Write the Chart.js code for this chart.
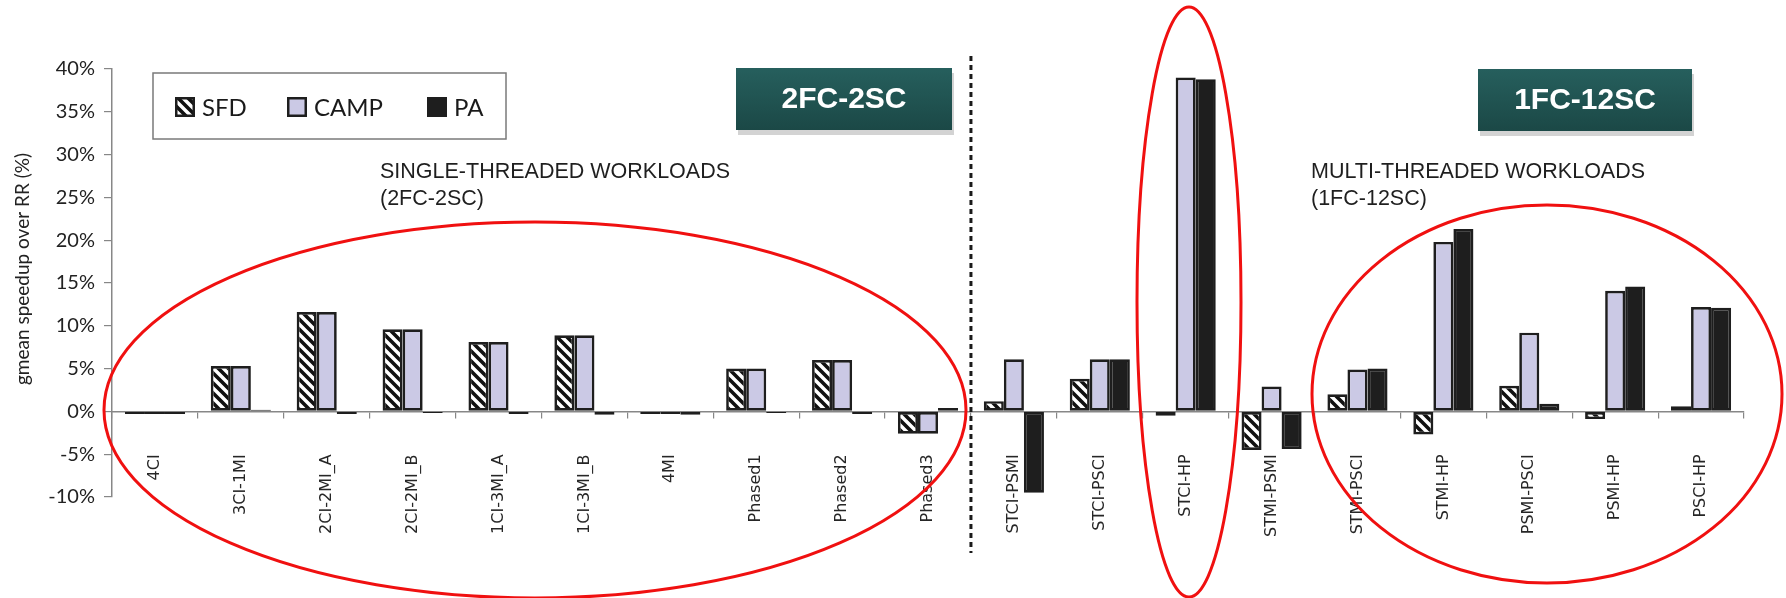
<!DOCTYPE html>
<html>
<head>
<meta charset="utf-8">
<title>gmean speedup over RR</title>
<script src="https://cdn.jsdelivr.net/npm/chart.js@4.4.1/dist/chart.umd.min.js"></script>
<style>
  html, body { margin: 0; padding: 0; background: #ffffff; }
  #wrap { width: 1786px; height: 598px; position: relative; }
</style>
</head>
<body>
<div id="wrap"><canvas id="chart" width="1786" height="598"></canvas></div>
<script>
// ---- data -------------------------------------------------------------
const categories = [
  '4CI', '3CI-1MI', '2CI-2MI_A', '2CI-2MI_B', '1CI-3MI_A', '1CI-3MI_B', '4MI',
  'Phased1', 'Phased2', 'Phased3',
  'STCI-PSMI', 'STCI-PSCI', 'STCI-HP', 'STMI-PSMI', 'STMI-PSCI', 'STMI-HP',
  'PSMI-PSCI', 'PSMI-HP', 'PSCI-HP'
];
const seriesNames = ['SFD', 'CAMP', 'PA'];
const sfd  = [-0.3, 5.3, 11.6, 9.6, 8.1, 8.9, -0.3, 5.0, 6.0, -2.6, 1.2, 3.8, -0.5, -4.5, 2.0, -2.7, 3.0, -0.9, 0.6];
const camp = [-0.3, 5.3, 11.6, 9.6, 8.1, 8.9, -0.3, 5.0, 6.0, -2.6, 6.1, 6.1, 39.0, 2.9, 4.9, 19.8, 9.2, 14.1, 12.2];
const pa   = [-0.3, 0.2, -0.3, -0.2, -0.3, -0.4, -0.4, -0.2, -0.3, 0.4, -9.5, 6.1, 38.8, -4.4, 5.0, 21.3, 0.9, 14.6, 12.1];
const yTicks = [-10, -5, 0, 5, 10, 15, 20, 25, 30, 35, 40];
const yTitle = 'gmean speedup over RR (%)';
const splitIndex = 10; // first multi-threaded workload
const groupBadges = ['2FC-2SC', '1FC-12SC'];
const groupNotes = [
  ['SINGLE-THREADED WORKLOADS', '(2FC-2SC)'],
  ['MULTI-THREADED WORKLOADS', '(1FC-12SC)']
];

// ---- styles -----------------------------------------------------------
const INK = '#1e1e1e';
const AXIS = '#878787';
const LAVENDER = '#cbc9e5';
const RED = '#f01010';
const LABEL_FONT = '"DejaVu Sans", Verdana, sans-serif';
const UI_FONT = 'Lato, "Noto Sans", sans-serif';

function hatchPattern() {
  const s = 10;
  const c = document.createElement('canvas');
  c.width = s; c.height = s;
  const g = c.getContext('2d');
  g.fillStyle = '#ffffff';
  g.fillRect(0, 0, s, s);
  g.strokeStyle = '#111111';
  g.lineWidth = 3.6;
  g.beginPath();
  g.moveTo(-s, -s); g.lineTo(2 * s, 2 * s);
  g.moveTo(-s, 0); g.lineTo(s, 2 * s);
  g.moveTo(0, -s); g.lineTo(2 * s, s);
  g.stroke();
  return g.createPattern(c, 'repeat');
}
const hatch = hatchPattern();

// category labels hang below the zero line, read bottom-to-top
const categoryLabels = {
  id: 'categoryLabels',
  afterDatasetsDraw(chart) {
    const ctx = chart.ctx;
    const xs = chart.scales.x;
    const ys = chart.scales.y;
    const top = ys.getPixelForValue(0) + 43;
    ctx.save();
    ctx.fillStyle = '#262626';
    ctx.font = '16px ' + LABEL_FONT;
    ctx.textAlign = 'right';
    ctx.textBaseline = 'middle';
    chart.data.labels.forEach((label, i) => {
      ctx.save();
      ctx.translate(xs.getPixelForValue(i), top);
      ctx.rotate(-Math.PI / 2);
      ctx.fillText(label, 0, 0);
      ctx.restore();
    });
    // value-axis title
    const area = chart.chartArea;
    ctx.font = '19px ' + UI_FONT;
    ctx.fillStyle = '#222222';
    ctx.textAlign = 'center';
    ctx.translate(23, (area.top + area.bottom) / 2 - 14);
    ctx.rotate(-Math.PI / 2);
    ctx.fillText(yTitle, 0, 0);
    ctx.restore();
  }
};

// decorations drawn on top of the plot
const decor = {
  id: 'decor',
  beforeDraw(chart) {
    const ctx = chart.ctx;
    ctx.save();
    ctx.fillStyle = '#ffffff';
    ctx.fillRect(0, 0, chart.width, chart.height);
    ctx.restore();
  },
  afterDraw(chart) {
    const ctx = chart.ctx;
    const xs = chart.scales.x;
    ctx.save();

    // dashed divider between the two workload groups
    const xSplit = (xs.getPixelForValue(splitIndex - 1) + xs.getPixelForValue(splitIndex)) / 2;
    ctx.strokeStyle = '#1a1a1a';
    ctx.lineWidth = 3;
    ctx.setLineDash([5, 4]);
    ctx.beginPath();
    ctx.moveTo(xSplit, 56);
    ctx.lineTo(xSplit, 553);
    ctx.stroke();
    ctx.setLineDash([]);

    // legend box
    const lg = { x: 153, y: 73, w: 353, h: 66 };
    ctx.fillStyle = '#ffffff';
    ctx.fillRect(lg.x, lg.y, lg.w, lg.h);
    ctx.strokeStyle = '#7a7a7a';
    ctx.lineWidth = 1.5;
    ctx.strokeRect(lg.x, lg.y, lg.w, lg.h);
    const swatchX = [175, 287, 427];
    const cy = 107;
    ctx.font = '24px ' + UI_FONT;
    ctx.textBaseline = 'middle';
    ctx.textAlign = 'left';
    chart.data.datasets.forEach((ds, i) => {
      const sx = swatchX[i];
      ctx.fillStyle = ds.backgroundColor;
      ctx.fillRect(sx, cy - 10, 20, 20);
      ctx.strokeStyle = INK;
      ctx.lineWidth = 2.5;
      ctx.strokeRect(sx + 1.25, cy - 8.75, 17.5, 17.5);
      ctx.fillStyle = '#1a1a1a';
      ctx.fillText(ds.label, sx + 27, cy + 1);
    });

    // group badges
    const badges = [
      { x: 736, y: 68, w: 216, h: 62 },
      { x: 1478, y: 69, w: 214, h: 62 }
    ];
    badges.forEach((b, i) => {
      ctx.fillStyle = '#d3d3d3';
      ctx.fillRect(b.x + 2, b.y + 5, b.w, b.h);
      const grad = ctx.createLinearGradient(0, b.y, 0, b.y + b.h);
      grad.addColorStop(0, '#265f5d');
      grad.addColorStop(1, '#1b4846');
      ctx.fillStyle = grad;
      ctx.fillRect(b.x, b.y, b.w, b.h);
      ctx.fillStyle = '#ffffff';
      ctx.font = 'bold 30px "Liberation Sans", Arial, sans-serif';
      ctx.textAlign = 'center';
      ctx.textBaseline = 'middle';
      ctx.fillText(groupBadges[i], b.x + b.w / 2, b.y + b.h / 2 + 1);
    });

    // group notes
    const notePos = [{ x: 380, y: 172 }, { x: 1311, y: 172 }];
    ctx.fillStyle = '#1f1f1f';
    ctx.font = '21.5px "Liberation Sans", Arial, sans-serif';
    ctx.textAlign = 'left';
    ctx.textBaseline = 'middle';
    groupNotes.forEach((lines, i) => {
      lines.forEach((t, j) => ctx.fillText(t, notePos[i].x, notePos[i].y + j * 27.5));
    });

    // red highlight ellipses
    const rings = [
      { cx: 535, cy: 410, rx: 431, ry: 188 },
      { cx: 1189, cy: 302, rx: 52, ry: 295 },
      { cx: 1547, cy: 394, rx: 235, ry: 189 }
    ];
    ctx.strokeStyle = RED;
    ctx.lineWidth = 3;
    rings.forEach(r => {
      ctx.beginPath();
      ctx.ellipse(r.cx, r.cy, r.rx, r.ry, 0, 0, Math.PI * 2);
      ctx.stroke();
    });

    ctx.restore();
  }
};

const barStyle = {
  borderColor: INK,
  borderWidth: 2.7,
  borderSkipped: false,
  categoryPercentage: 0.7,
  barPercentage: 1.0
};

new Chart(document.getElementById('chart'), {
  type: 'bar',
  data: {
    labels: categories,
    datasets: [
      Object.assign({ label: seriesNames[0], data: sfd, backgroundColor: hatch }, barStyle),
      Object.assign({ label: seriesNames[1], data: camp, backgroundColor: LAVENDER }, barStyle),
      Object.assign({ label: seriesNames[2], data: pa, backgroundColor: INK }, barStyle)
    ]
  },
  options: {
    responsive: false,
    animation: false,
    events: [],
    layout: { padding: { top: 69, right: 42, bottom: 101, left: 0 } },
    plugins: {
      legend: { display: false },
      tooltip: { enabled: false },
      title: { display: false }
    },
    scales: {
      x: {
        position: { y: 0 },
        offset: true,
        grid: {
          offset: true,
          drawOnChartArea: false,
          drawTicks: true,
          tickLength: 6,
          color: AXIS,
          lineWidth: 1.2
        },
        border: { display: true, color: AXIS, width: 1.5 },
        ticks: { display: false, autoSkip: false }
      },
      y: {
        min: -10,
        max: 40,
        afterFit(scale) { scale.width = 112; },
        afterBuildTicks(scale) { scale.ticks = yTicks.map(v => ({ value: v })); },
        grid: {
          drawOnChartArea: false,
          drawTicks: true,
          tickLength: 8,
          color: AXIS,
          lineWidth: 1.2
        },
        border: { display: true, color: AXIS, width: 1.5 },
        ticks: {
          padding: 9,
          color: '#222222',
          font: { family: UI_FONT, size: 20 },
          callback: v => v + '%'
        },
        title: { display: false }
      }
    }
  },
  plugins: [categoryLabels, decor]
});
</script>
</body>
</html>
